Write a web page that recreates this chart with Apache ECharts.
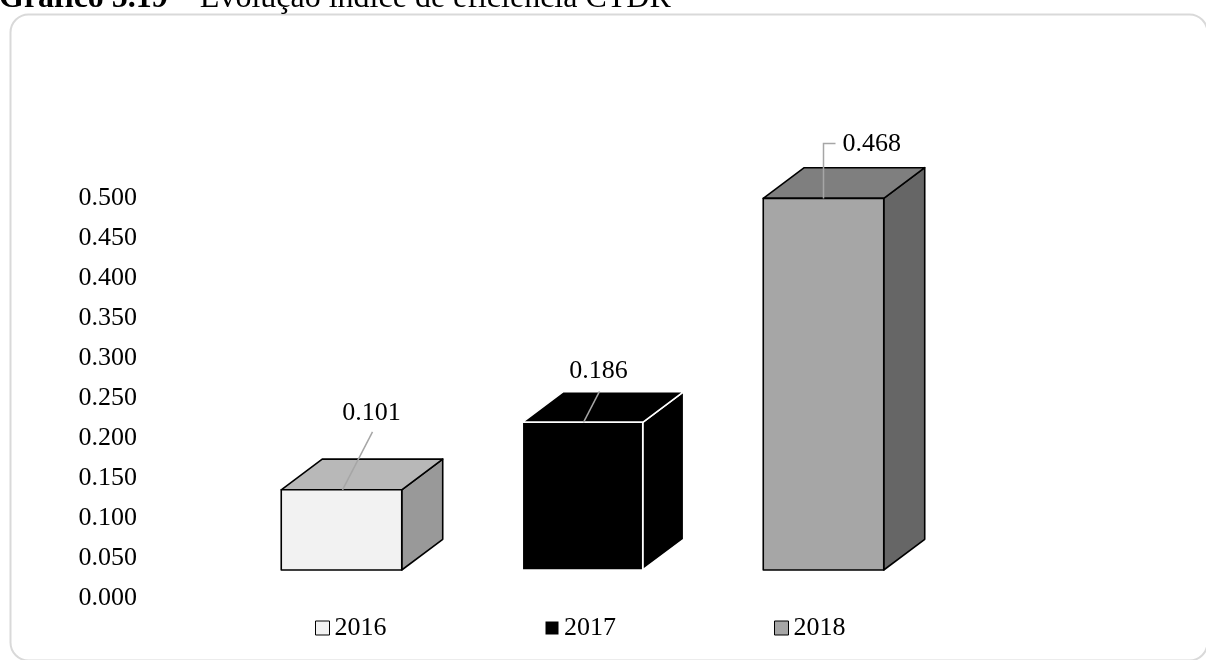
<!DOCTYPE html>
<html>
<head>
<meta charset="utf-8">
<script src="https://cdn.jsdelivr.net/npm/echarts@6/dist/echarts.min.js"></script>
<style>
  html, body { margin: 0; padding: 0; background: #fff; }
  #chart { width: 1206px; height: 660px; }
</style>
</head>
<body>
<div id="chart"></div>
<script>
// Índice de eficiência CTDR por ano
const years = ['2016', '2017', '2018'];
const values = [0.101, 0.186, 0.468];
const valueLabels = ['0.101', '0.186', '0.468'];
const axisMin = 0;
const axisMax = 0.5;
const axisStep = 0.05;

// Face colours of each block: front, top, side, edge
const faceColors = [
  { front: '#f2f2f2', top: '#b8b8b8', side: '#999999', edge: '#000000' },
  { front: '#000000', top: '#000000', side: '#000000', edge: '#ffffff' },
  { front: '#a6a6a6', top: '#7f7f7f', side: '#666666', edge: '#000000' }
];
// Value label placement relative to the top-front edge of each block
const labelLayout = [
  { text: [30, -77], align: 'center', path: [[1, 0], [31, -58]] },
  { text: [16, -51], align: 'center', path: [[1, 0], [17, -31]] },
  { text: [19, -54], align: 'left',   path: [[0, 0], [0, -55], [12, -55]] }
];

const FONT = '"Liberation Serif", "Times New Roman", serif';
const chart = echarts.init(document.getElementById('chart'));

function renderBlock(params, api) {
  const k = params.seriesIndex;
  const cat = api.value(0);
  const v = api.value(1);
  const topPt = api.coord([cat, v]);
  const basePt = api.coord([cat, 0]);
  const band = api.size([1, 0])[0];
  const w = band * 0.5;
  const dx = band * 0.17;
  const dy = -dx * 0.75;
  const x0 = topPt[0] - w / 2, x1 = topPt[0] + w / 2;
  const yT = topPt[1], yB = basePt[1];
  const c = faceColors[k];
  const edge = { stroke: c.edge, lineWidth: 1.6, lineJoin: 'round' };
  const lay = labelLayout[k];
  const ax = topPt[0], ay = yT;
  return {
    type: 'group',
    children: [
      { type: 'polygon', shape: { points: [[x1, yT], [x1 + dx, yT + dy], [x1 + dx, yB + dy], [x1, yB]] },
        style: Object.assign({ fill: c.side }, edge) },
      { type: 'polygon', shape: { points: [[x0, yT], [x0 + dx, yT + dy], [x1 + dx, yT + dy], [x1, yT]] },
        style: Object.assign({ fill: c.top }, edge) },
      { type: 'polygon', shape: { points: [[x0, yT], [x1, yT], [x1, yB], [x0, yB]] },
        style: Object.assign({ fill: c.front }, edge) },
      { type: 'polyline', shape: { points: lay.path.map(p => [ax + p[0], ay + p[1]]) },
        style: { stroke: '#a6a6a6', lineWidth: 1.5, fill: null } },
      { type: 'text', x: ax + lay.text[0], y: ay + lay.text[1],
        style: { text: valueLabels[k], fill: '#000', font: '26px ' + FONT,
                 align: lay.align, verticalAlign: 'middle' } }
    ]
  };
}

const option = {
  animation: false,
  backgroundColor: '#ffffff',
  graphic: [
    { type: 'rect', left: 8, top: 12,
      shape: { width: 1197, height: 646, r: 18 },
      style: { fill: 'none', stroke: '#d9d9d9', lineWidth: 2 } },
    { type: 'text', left: -1, top: -17,
      style: {
        text: '{b|Gráfico 5.19} – Evolução índice de eficiência CTDR',
        font: '32px ' + FONT, fill: '#000',
        rich: { b: { fontWeight: 'bold', fontSize: 32, fontFamily: FONT } }
      } }
  ],
  legend: {
    left: 315, top: 615, padding: 0,
    itemWidth: 14, itemHeight: 14, itemGap: 158,
    textStyle: { fontFamily: FONT, fontSize: 26, color: '#000' },
    data: years.map((y, i) => ({
      name: y, icon: 'rect',
      itemStyle: { color: faceColors[i].front, borderColor: i === 1 ? '#ffffff' : '#000000', borderWidth: 1 }
    }))
  },
  grid: [
    // value-axis labels
    { left: 221, right: 262, top: 198, bottom: 62 },
    // blocks
    { left: 221, right: 262, top: 173, bottom: 90 }
  ],
  xAxis: [
    { gridIndex: 0, type: 'category', data: years, show: false },
    { gridIndex: 1, type: 'category', data: years, show: false }
  ],
  yAxis: [
    { gridIndex: 0, type: 'value', min: axisMin, max: axisMax, interval: axisStep,
      axisLine: { show: false }, axisTick: { show: false }, splitLine: { show: false },
      axisLabel: { margin: 84, fontFamily: FONT, fontSize: 26, color: '#000',
                   formatter: v => v.toFixed(3) } },
    { gridIndex: 1, type: 'value', min: axisMin, max: axisMax, interval: axisStep, show: false,
      splitLine: { show: false } }
  ],
  series: years.map((y, i) => ({
    name: y,
    type: 'custom',
    xAxisIndex: 1, yAxisIndex: 1,
    renderItem: renderBlock,
    itemStyle: { color: faceColors[i].front },
    data: [[i, values[i]]]
  }))
};
chart.setOption(option);
</script>
</body>
</html>
